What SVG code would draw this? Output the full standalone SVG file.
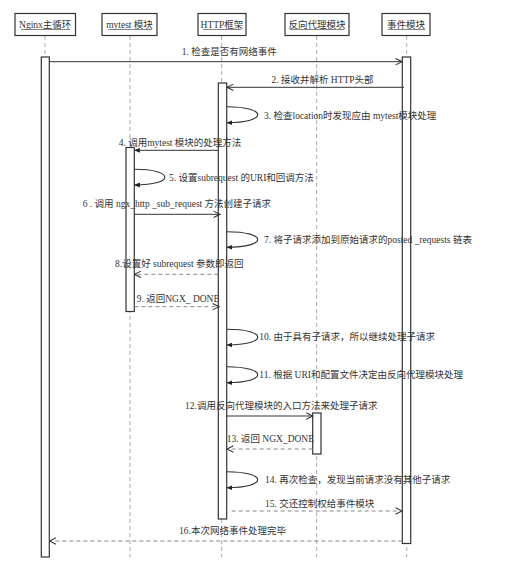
<svg xmlns="http://www.w3.org/2000/svg" width="515" height="565" viewBox="0 0 515 565">
<style>
text{font-family:"Liberation Serif","Noto Sans CJK SC",serif;font-size:9.5px;fill:#333}
.hd{fill:#fff;stroke:#333;stroke-width:1.2}
.ul{stroke:#666;stroke-width:0.8}
.life{stroke:#aaa;stroke-width:1;stroke-dasharray:4,3;fill:none}
.act{fill:#fff;stroke:#333;stroke-width:1.2}
.msg{stroke:#333;stroke-width:1;fill:none}
.ret{stroke:#888;stroke-width:1;fill:none;stroke-dasharray:4,3}
.self{stroke:#333;stroke-width:1.1;fill:none}
</style>
<defs>
<marker id="open" viewBox="0 0 10 10" refX="9" refY="5" markerWidth="8" markerHeight="8" markerUnits="userSpaceOnUse" orient="auto">
<path d="M1,1 L9,5 L1,9" fill="none" stroke="#333" stroke-width="1.3"/>
</marker>
<marker id="fill" viewBox="0 0 10 10" refX="9" refY="5" markerWidth="6" markerHeight="6" markerUnits="userSpaceOnUse" orient="auto">
<path d="M0,1 L10,5 L0,9 Z" fill="#222"/>
</marker>
</defs>
<rect width="515" height="565" fill="#fff"/>

<g id="nginx">
<line class="life" x1="45" y1="36" x2="45" y2="557"/>
<rect class="hd" x="15" y="13.5" width="60.5" height="22"/>
<text x="45.2" y="27.5" text-anchor="middle">Nginx主循环</text>
<line class="ul" x1="21" y1="29.5" x2="70" y2="29.5"/>
<rect class="act" x="41.3" y="57" width="8" height="500"/>
</g>

<g id="mytest">
<line class="life" x1="130" y1="36" x2="130" y2="557"/>
<rect class="hd" x="102" y="13.5" width="55" height="22"/>
<text x="129.5" y="27.5" text-anchor="middle">mytest 模块</text>
<line class="ul" x1="108" y1="29.5" x2="152" y2="29.5"/>
<rect class="act" x="126" y="147.5" width="8.3" height="164"/>
</g>

<g id="http">
<line class="life" x1="221.7" y1="36" x2="221.7" y2="557"/>
<rect class="hd" x="198" y="13.5" width="48" height="22"/>
<text x="222" y="27.5" text-anchor="middle">HTTP框架</text>
<line class="ul" x1="203" y1="29.5" x2="241" y2="29.5"/>
<rect class="act" x="218.3" y="83" width="8.4" height="436"/>
</g>

<g id="proxy">
<line class="life" x1="316.7" y1="36" x2="316.7" y2="557"/>
<rect class="hd" x="285" y="13.5" width="64" height="22"/>
<text x="317" y="27.5" text-anchor="middle">反向代理模块</text>
<line class="ul" x1="290" y1="29.5" x2="344" y2="29.5"/>
<rect class="act" x="312.7" y="413" width="8.3" height="41"/>
</g>

<g id="event">
<line class="life" x1="406.7" y1="36" x2="406.7" y2="557"/>
<rect class="hd" x="382" y="13.5" width="48" height="22"/>
<text x="406" y="27.5" text-anchor="middle">事件模块</text>
<line class="ul" x1="388" y1="29.5" x2="425" y2="29.5"/>
<rect class="act" x="402.3" y="57" width="8.4" height="486.5"/>
</g>

<g id="connectors">
<line class="msg" x1="49.3" y1="61.7" x2="402" y2="61.7" marker-end="url(#open)"/>
<text x="181.7" y="55">1. 检查是否有网络事件</text>

<line class="msg" x1="404" y1="87.3" x2="227" y2="87.3" marker-end="url(#open)"/>
<text x="322.5" y="82.5" text-anchor="middle">2. 接收并解析 HTTP头部</text>

<path class="self" d="M226.7,106.7 C268,106.7 268,122.7 227,122.7" marker-end="url(#fill)"/>
<text x="264" y="118.5">3. 检查location时发现应由 mytest模块处理</text>

<line class="msg" x1="218.3" y1="150.3" x2="134.5" y2="150.3" marker-end="url(#fill)"/>
<text x="180" y="146" text-anchor="middle">4. 调用mytest 模块的处理方法</text>

<path class="self" d="M134.3,169.3 C175,169.3 175,185 134.5,185" marker-end="url(#fill)"/>
<text x="169" y="180.5">5. 设置subrequest 的URI和回调方法</text>

<line class="msg" x1="134.3" y1="214.3" x2="220" y2="214.3" marker-end="url(#open)"/>
<text x="82.7" y="207">6 . 调用 ngx_http _sub_request 方法创建子请求</text>

<path class="self" d="M226.7,231.7 C268,231.7 268,247.3 227,247.3" marker-end="url(#fill)"/>
<text x="264" y="243">7. 将子请求添加到原始请求的posted _requests 链表</text>

<line class="ret" x1="218.3" y1="274.3" x2="134.5" y2="274.3" marker-end="url(#open)"/>
<text x="115" y="267">8.设置好 subrequest 参数即返回</text>

<line class="ret" x1="134.3" y1="306.7" x2="219" y2="306.7" marker-end="url(#open)"/>
<text x="136.7" y="302">9. 返回NGX_ DONE</text>

<path class="self" d="M226.7,329.3 C268,329.3 268,345 227,345" marker-end="url(#fill)"/>
<text x="259.3" y="340">10. 由于具有子请求，所以继续处理子请求</text>

<path class="self" d="M226.7,366.7 C268,366.7 268,382.7 227,382.7" marker-end="url(#fill)"/>
<text x="259.3" y="377.5">11. 根据 URI和配置文件决定由反向代理模块处理</text>

<line class="msg" x1="226.7" y1="416" x2="312.7" y2="416" marker-end="url(#open)"/>
<text x="185" y="409">12.调用反向代理模块的入口方法来处理子请求</text>

<line class="ret" x1="312.7" y1="449" x2="227" y2="449" marker-end="url(#open)"/>
<text x="226.7" y="442">13. 返回 NGX_DONE</text>

<path class="self" d="M226.7,471.7 C268,471.7 268,487.7 227,487.7" marker-end="url(#fill)"/>
<text x="265" y="483">14. 再次检查，发现当前请求没有其他子请求</text>

<line class="ret" x1="231.7" y1="511" x2="402" y2="511" marker-end="url(#open)"/>
<text x="265" y="507">15. 交还控制权给事件模块</text>

<line class="ret" x1="402.3" y1="541" x2="49.5" y2="541" marker-end="url(#open)"/>
<text x="179" y="533.5">16.本次网络事件处理完毕</text>
</g>
</svg>
